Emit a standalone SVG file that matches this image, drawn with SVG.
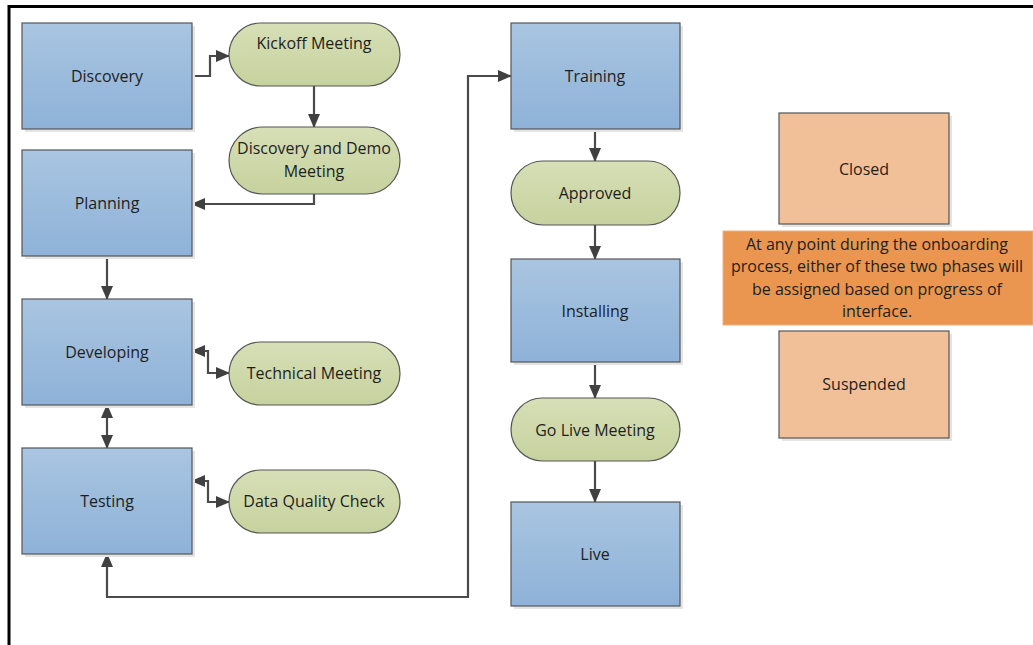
<svg xmlns="http://www.w3.org/2000/svg" width="1033" height="645" viewBox="0 0 1033 645">
<defs>
<linearGradient id="gb" x1="0" y1="0" x2="0" y2="1"><stop offset="0" stop-color="#a9c5e1"/><stop offset="1" stop-color="#8eb2d8"/></linearGradient>
<linearGradient id="gg" x1="0" y1="0" x2="0" y2="1"><stop offset="0" stop-color="#d7dfb6"/><stop offset="1" stop-color="#c6d29e"/></linearGradient>
<marker id="ah" markerWidth="14" markerHeight="12" refX="13" refY="6" orient="auto-start-reverse" markerUnits="userSpaceOnUse"><path d="M0,0 L14,6 L0,12 z" fill="#404040"/></marker>
<style>
.b{fill:url(#gb);stroke:#555;stroke-width:1.2}
.g{fill:url(#gg);stroke:#555;stroke-width:1.2}
.o{fill:#f2c098;stroke:#555;stroke-width:1.2}
.sh{fill:#e4e4e4}
text{font-family:"Open Sans","Liberation Sans",sans-serif;font-size:16px;fill:#1e1e1e;text-anchor:middle;dominant-baseline:central}
.c{fill:none;stroke:#4a4a4a;stroke-width:2.2}
</style>
</defs>
<rect width="1033" height="645" fill="#fff"/>
<path d="M9,645 V6.5 H1033" fill="none" stroke="#000" stroke-width="3"/>
<g id="connectors">
<path class="c" d="M192,76 H210 V56 H229" marker-end="url(#ah)"/>
<path class="c" d="M314,86 V127" marker-end="url(#ah)"/>
<path class="c" d="M314,194 V204 H192" marker-end="url(#ah)"/>
<path class="c" d="M107,256 V299" marker-end="url(#ah)"/>
<path class="c" d="M107,405 V448" marker-start="url(#ah)" marker-end="url(#ah)"/>
<path class="c" d="M192,351 H208 V373 H229" marker-start="url(#ah)" marker-end="url(#ah)"/>
<path class="c" d="M192,481 H208 V502 H229" marker-start="url(#ah)" marker-end="url(#ah)"/>
<path class="c" d="M107,554 V597 H468 V76 H511" marker-start="url(#ah)" marker-end="url(#ah)"/>
<path class="c" d="M595,129 V161" marker-end="url(#ah)"/>
<path class="c" d="M595,225 V259" marker-end="url(#ah)"/>
<path class="c" d="M595,362 V398" marker-end="url(#ah)"/>
<path class="c" d="M595,461 V502" marker-end="url(#ah)"/>
</g>
<g id="discovery"><rect class="sh" x="25" y="26" width="170" height="106"/><rect class="b" x="22" y="23" width="170" height="106"/><text x="107" y="76">Discovery</text></g>
<g id="kickoff"><rect class="g" x="229" y="23" width="171" height="63" rx="31.5"/><text x="314" y="43">Kickoff Meeting</text></g>
<g id="demo"><rect class="g" x="229" y="127" width="171" height="67" rx="33.5"/><text x="314" y="148">Discovery and Demo</text><text x="314" y="171">Meeting</text></g>
<g id="planning"><rect class="sh" x="25" y="153" width="170" height="106"/><rect class="b" x="22" y="150" width="170" height="106"/><text x="107" y="203">Planning</text></g>
<g id="developing"><rect class="sh" x="25" y="302" width="170" height="106"/><rect class="b" x="22" y="299" width="170" height="106"/><text x="107" y="352">Developing</text></g>
<g id="technical"><rect class="g" x="229" y="342" width="171" height="63" rx="31.5"/><text x="314" y="373">Technical Meeting</text></g>
<g id="testing"><rect class="sh" x="25" y="451" width="170" height="106"/><rect class="b" x="22" y="448" width="170" height="106"/><text x="107" y="501">Testing</text></g>
<g id="dataquality"><rect class="g" x="229" y="470" width="171" height="63" rx="31.5"/><text x="314" y="501">Data Quality Check</text></g>
<g id="training"><rect class="sh" x="514" y="26" width="169" height="106"/><rect class="b" x="511" y="23" width="169" height="106"/><text x="595" y="76">Training</text></g>
<g id="approved"><rect class="g" x="511" y="161" width="169" height="64" rx="32"/><text x="595" y="193">Approved</text></g>
<g id="installing"><rect class="sh" x="514" y="262" width="169" height="103"/><rect class="b" x="511" y="259" width="169" height="103"/><text x="595" y="311">Installing</text></g>
<g id="golive"><rect class="g" x="511" y="398" width="169" height="63" rx="31.5"/><text x="595" y="430">Go Live Meeting</text></g>
<g id="live"><rect class="sh" x="514" y="505" width="169" height="104"/><rect class="b" x="511" y="502" width="169" height="104"/><text x="595" y="554">Live</text></g>
<g id="closed"><rect class="sh" x="782" y="116" width="170" height="111"/><rect class="o" x="779" y="113" width="170" height="111"/><text x="864" y="169">Closed</text></g>
<g id="suspended"><rect class="sh" x="782" y="334" width="170" height="107"/><rect class="o" x="779" y="331" width="170" height="107"/><text x="864" y="384">Suspended</text></g>
<g id="note"><rect x="723" y="231" width="310" height="94" fill="#ea9650" stroke="#f0b080" stroke-width="1"/><text x="877" y="244">At any point during the onboarding</text><text x="877" y="266">process, either of these two phases will</text><text x="877" y="289">be assigned based on progress of</text><text x="877" y="311">interface.</text></g>
</svg>
